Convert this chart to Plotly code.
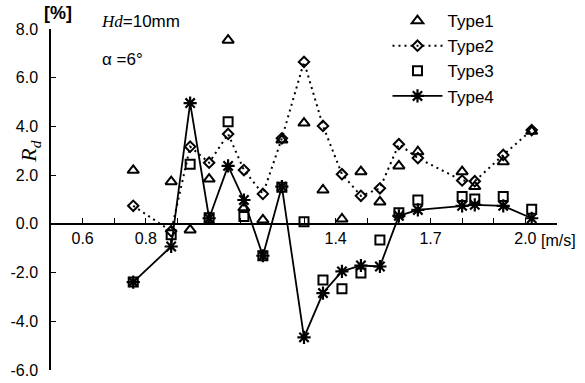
import plotly.graph_objects as go

# Flow velocity [m/s]
velocity = [0.76, 0.88, 0.94, 1.00, 1.06, 1.11, 1.17, 1.23, 1.30, 1.36,
            1.42, 1.48, 1.54, 1.60, 1.66, 1.80, 1.84, 1.93, 2.02]

# Rd [%] for each type
type1 = [2.2, 1.73, -0.25, 1.84, 7.54, 0.66, 0.16, 3.44, 4.14, 1.39,
         0.2, 2.14, 0.9, 2.38, 2.96, 2.14, 1.53, 2.55, 3.8]
type2 = [0.74, -0.3, 3.17, 2.51, 3.69, 2.21, 1.23, 3.51, 6.65, 4.02,
         2.04, 1.15, 1.46, 3.27, 2.7, 1.78, 1.75, 2.83, 3.85]
type3 = [-2.39, -0.45, 2.45, 0.25, 4.19, 0.3, -1.31, 1.5, 0.09, -2.3,
         -2.66, -2.02, -0.66, 0.46, 0.98, 1.12, 1.02, 1.12, 0.6]
type4 = [-2.39, -0.93, 4.96, 0.23, 2.38, 0.98, -1.31, 1.53, -4.66, -2.84,
         -1.95, -1.71, -1.75, 0.33, 0.57, 0.74, 0.78, 0.74, 0.23]

x_tick_labels = [0.6, 0.8, 1.4, 1.7, 2.0]
y_ticks = [-6, -4, -2, 0, 2, 4, 6, 8]

X_RANGE = [0.5, 2.1]
Y_RANGE = [-6, 8]
FONT = "Arial, Liberation Sans, sans-serif"
SERIF = "Times New Roman, Liberation Serif, serif"

fig = go.Figure()

fig.add_trace(go.Scatter(
    x=velocity, y=type1, name="Type1", mode="markers", legendgroup="1",
    marker=dict(symbol="triangle-up-open", size=10, color="black",
                line=dict(width=2, color="black")),
))
fig.add_trace(go.Scatter(
    x=velocity, y=type2, name="Type2", mode="lines+markers", legendgroup="2",
    line=dict(color="black", width=2, dash="2px,4px"),
    marker=dict(symbol="diamond-open", size=8, color="black",
                line=dict(width=2, color="black")),
))
fig.add_trace(go.Scatter(
    x=velocity, y=type3, name="Type3", mode="markers", legendgroup="3",
    marker=dict(symbol="square-open", size=9, color="black",
                line=dict(width=2, color="black")),
))
fig.add_trace(go.Scatter(
    x=velocity, y=type4, name="Type4", mode="lines+markers", legendgroup="4",
    line=dict(color="black", width=1.8),
    marker=dict(symbol="asterisk-open", size=11, color="black",
                line=dict(width=2.2, color="black")),
))

# y position of the zero line as a fraction of the plot height
zero_pos = (0 - Y_RANGE[0]) / (Y_RANGE[1] - Y_RANGE[0])

fig.update_layout(
    width=585, height=383,
    margin=dict(l=51, r=28, t=29, b=13, autoexpand=False),
    paper_bgcolor="white", plot_bgcolor="white",
    font=dict(family=FONT, size=16, color="black"),
    showlegend=True,
    legend=dict(
        x=0.665, y=1.076, xanchor="left", yanchor="top",
        bgcolor="rgba(0,0,0,0)", font=dict(size=17, family=FONT),
        tracegroupgap=0, traceorder="grouped", itemwidth=50,
    ),
    xaxis=dict(
        range=X_RANGE, anchor="free", position=zero_pos,
        showline=True, linecolor="black", linewidth=1.5,
        showgrid=False, zeroline=False,
        tickmode="array", tickvals=x_tick_labels,
        ticktext=[f"{v:.1f}" for v in x_tick_labels],
        ticks="inside", ticklen=5, tickwidth=1, tickcolor="black",
        minor=dict(tickmode="linear", tick0=0.5, dtick=0.1,
                   ticks="inside", ticklen=5, tickwidth=1, tickcolor="black"),
        tickfont=dict(size=16, family=FONT),
    ),
    yaxis=dict(
        range=Y_RANGE, showline=True, linecolor="black", linewidth=1.5,
        showgrid=False, zeroline=False,
        tickmode="array", tickvals=y_ticks,
        ticktext=[f"{v:.1f}" for v in y_ticks],
        ticks="inside", ticklen=5, tickwidth=1, tickcolor="black",
        ticklabelstandoff=8,
        tickfont=dict(size=16, family=FONT),
    ),
)

annotations = [
    dict(text="<b>[%]</b>", x=0.014, y=1.047, xref="paper", yref="paper",
         xanchor="center", yanchor="middle",
         showarrow=False, font=dict(size=18, family=FONT)),
    dict(text=f"<span style='font-family:{SERIF}'><i>Hd</i></span>=10mm",
         x=0.095, y=1.022, xref="paper", yref="paper", xanchor="left",
         yanchor="middle", showarrow=False, font=dict(size=17, family=FONT)),
    dict(text="α =6°", x=0.097, y=0.912, xref="paper", yref="paper",
         xanchor="left", yanchor="middle", showarrow=False,
         font=dict(size=17, family=FONT)),
    dict(text="[m/s]", x=0.964, y=0.381, xref="paper", yref="paper",
         xanchor="left", yanchor="middle", showarrow=False,
         font=dict(size=16, family=FONT)),
    dict(text="<i>R<sub>d</sub></i>", x=-0.0415, y=0.64, xref="paper",
         yref="paper", xanchor="center", yanchor="middle", textangle=-90,
         showarrow=False, font=dict(size=22, family=SERIF)),
]
fig.update_layout(annotations=annotations)

fig.write_html("out.html")
